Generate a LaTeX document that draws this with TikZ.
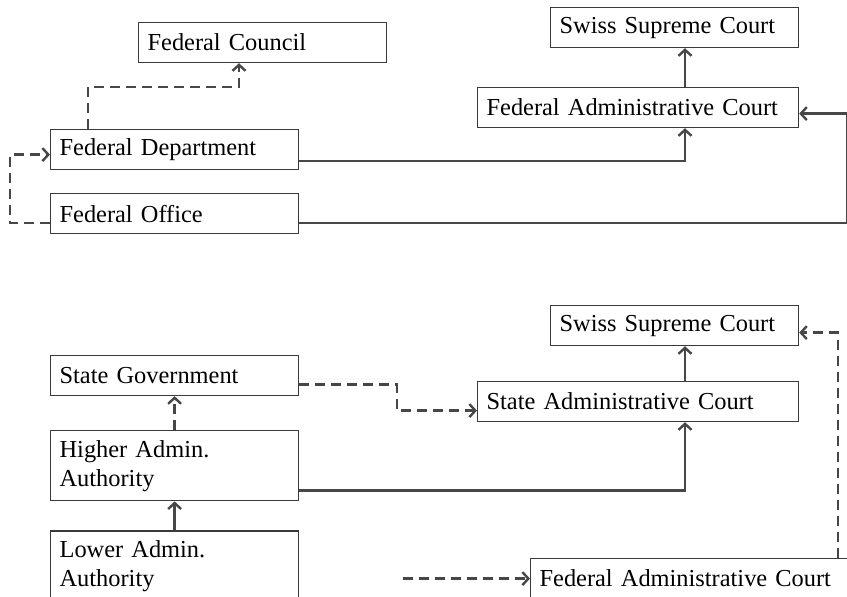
\documentclass[tikz,border=0pt]{standalone}
\usepackage{fontspec}
\setmainfont{Liberation Serif}
\usepackage{xcolor}
\usepackage{tikz}
\usetikzlibrary{positioning, arrows.meta, calc}

\definecolor{linegray}{HTML}{474747}
\definecolor{boxgray}{HTML}{3A3A3A}

\begin{document}
\begin{tikzpicture}[
        x=0.5pt, y=-0.5pt,
        box/.style={rectangle, draw=boxgray, line width=0.6pt, anchor=north west,
            text width=115pt, inner xsep=4.5pt, inner ysep=3pt, minimum height=20pt,
            align=left, font=\fontsize{12.2}{14.5}\selectfont},
        court/.style={box, text width=151.5pt},
        twoline/.style={box, minimum height=35pt},
        link/.style={draw=linegray, line width=1.2pt, -{Straight Barb[length=3pt, width=6.5pt]}},
        dlink/.style={link, dash pattern=on 5pt off 3pt}
    ]
        \useasboundingbox (0,0) rectangle (847,596);
        \clip (0,0) rectangle (847,596);

        % Federal level
        \node[box] (fedcouncil) at (138,22) {Federal Council};
        \node[box] (supreme) at (550,7) {Swiss Supreme Court};
        \node[court] (fedadmin) at (477,87) {Federal Administrative Court};
        \node[box] (feddept) at (50,129) {Federal Department};
        \node[box, below=11.5pt of feddept] (fedoffice) {Federal Office};

        % Appeals within the administration
        \draw[dlink] ([xshift=19pt]feddept.north west) -- ++(0,21pt) -| ([xshift=50.5pt]fedcouncil.south west);
        \draw[dlink] ([yshift=-4.5pt]fedoffice.west) -- ++(-20pt,0) |- ([yshift=-2.5pt]feddept.west);

        % Appeals to the courts
        \draw[link] ([yshift=-5.75pt]feddept.east) -| ([xshift=104pt]fedadmin.south west);
        \draw[link] ([yshift=-4.5pt]fedoffice.east) -| ([xshift=24pt, yshift=-3pt]fedadmin.east) -- ([yshift=-3pt]fedadmin.east);
        \draw[link] ([xshift=104pt]fedadmin.north west) -- ([xshift=67.5pt]supreme.south west);

        % State level
        \node[box] (supremestate) at (550,305) {Swiss Supreme Court};
        \node[box] (stategov) at (50,355) {State Government};
        \node[court] (statecourt) at (477,381) {State Administrative Court};
        \node[twoline, below=17pt of stategov] (higher) {Higher Admin.\\Authority};
        \node[twoline, below=14.5pt of higher] (lower) {Lower Admin.\\Authority};
        \node[court] (fedadminstate) at (530,558) {Federal Administrative Court};
        \coordinate (fedin) at ([xshift=-63.5pt]fedadminstate.west);

        % Appeals within the administration
        \draw[link] (lower.north) -- (higher.south);
        \draw[dlink] (higher.north) -- (stategov.south);
        \draw[dlink] ([yshift=-4.5pt]stategov.east) -- ++(49pt,0) |- ([yshift=-4.5pt]statecourt.west);

        % Appeals to the courts
        \draw[link] ([yshift=-12.25pt]higher.east) -| ([xshift=104pt]statecourt.south west);
        \draw[link] ([xshift=104pt]statecourt.north west) -- ([xshift=67.5pt]supremestate.south west);
        \draw[dlink] ([xshift=154pt]fedadminstate.north west) |- ([yshift=-3.5pt]supremestate.east);
        \draw[dlink] (fedin) -- (fedadminstate.west);

    \end{tikzpicture}
\end{document}
